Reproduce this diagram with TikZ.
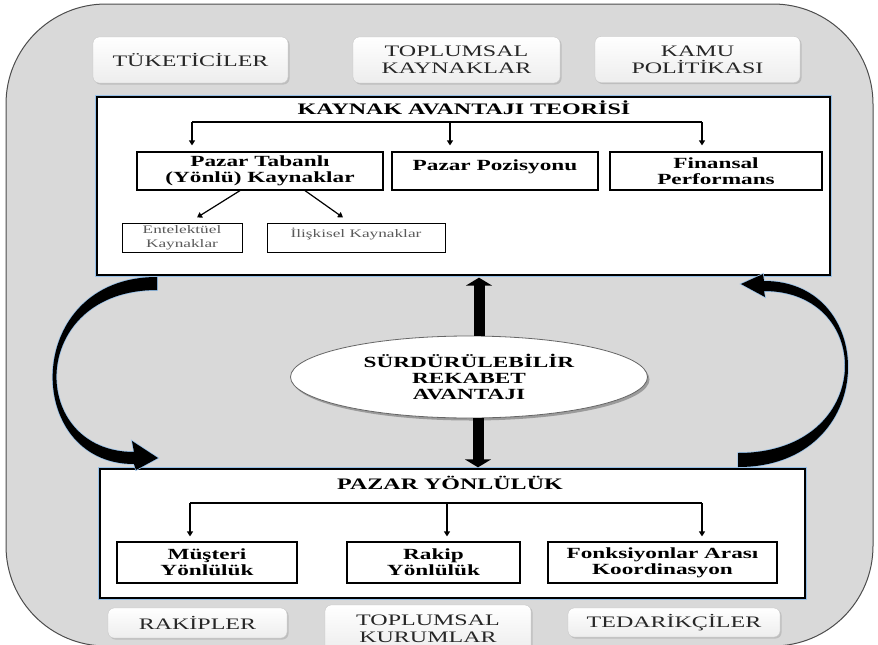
\documentclass[tikz,border=0pt]{standalone}
\usepackage{fontspec}
\setmainfont{Liberation Serif}[FakeStretch = 1.5]
\usetikzlibrary{arrows.meta,shapes.geometric,shadows}
\definecolor{bggray}{RGB}{217,217,217}
\definecolor{glowblue}{RGB}{150,192,232}
\definecolor{textgray}{RGB}{90,90,90}

\begin{document}
\begin{tikzpicture}[x = 1pt, y = -1pt,
            outline/.style = {draw = black!70, line width = 1pt, fill = bggray, rounded corners = 100pt},
            lblbox/.style = {draw = gray!45, rounded corners = 6pt, top color = white, bottom color = gray!14,
                drop shadow = {shadow xshift = 1.5pt, shadow yshift = -1.5pt, opacity = .3},
                align = center, inner sep = 0pt, text = black!85, font = \fontsize{16}{17}\selectfont},
            bigbox/.style = {draw = black, line width = 1.3pt, fill = white, inner sep = 0pt,
                preaction = {draw = glowblue, line width = 4.5pt}},
            subbox/.style = {draw = black, line width = 1.2pt, align = center, inner sep = 0pt,
                font = \fontsize{15.5}{16}\selectfont\bfseries},
            smallbox/.style = {draw = black, line width = 1pt, align = center, inner sep = 0pt,
                text = textgray, font = \fontsize{11.5}{14}\selectfont},
            heading/.style = {inner sep = 0pt, font = \fontsize{16}{16}\selectfont\bfseries},
            goal/.style = {ellipse, draw = black!60, line width = .8pt, fill = white, inner sep = 0pt,
                drop shadow = {shadow xshift = 2pt, shadow yshift = -2.5pt, fill = black!45, opacity = .8},
                align = center, font = \fontsize{15.5}{16}\selectfont\bfseries},
            arr/.style = {-{Triangle[width = 6pt, length = 5pt]}, line width = 1.2pt},
            bigarr/.style = {-{Triangle[width = 26pt, length = 8pt]}, line width = 11pt},
            curvearr/.style = {fill = black, preaction = {draw = glowblue, line width = 1.5pt}}]
    \useasboundingbox (0,0) rectangle (878,645);
    \draw[outline] (6,4) rectangle (873,646);

    \node[lblbox, minimum width = 195pt, minimum height = 46pt] (tuk) at (190.5,60) {TÜKETİCİLER};
    \node[lblbox, minimum width = 207pt, minimum height = 46pt] (tkay) at (456.5,60) {TOPLUMSAL\\KAYNAKLAR};
    \node[lblbox, minimum width = 205pt, minimum height = 46pt] (kamu) at (697.5,59.5) {KAMU\\POLİTİKASI};

    \node[bigbox, minimum width = 733pt, minimum height = 178pt] (kat) at (463.5,186) {};
    \node[heading] (kattitle) at (464,108) {KAYNAK AVANTAJI TEORİSİ};
    \node[subbox, minimum width = 246pt, minimum height = 38pt] (ptb) at (260,171) {Pazar Tabanlı\\(Yönlü) Kaynaklar};
    \node[subbox, minimum width = 206pt, text height = 18pt, text depth = 20pt] (ppoz) at (495,171) {Pazar Pozisyonu};
    \node[subbox, minimum width = 212pt, minimum height = 38pt] (fin) at (716,171) {Finansal\\Performans};
    \node[smallbox, minimum width = 120pt, minimum height = 29pt] (ent) at (182,237.5) {Entelektüel\\Kaynaklar};
    \node[smallbox, minimum width = 178pt, text height = 14pt, text depth = 15pt] (ili) at (356,237.5) {İlişkisel Kaynaklar};

    \coordinate (k1) at (192,122);
    \coordinate (k2) at (450,122);
    \coordinate (k3) at (702,122);
    \draw[line width = 1.2pt] (k1) -- (k3);
    \draw[arr, shorten >= 6pt] (k1) -- (k1 |- ptb.north);
    \draw[arr, shorten >= 6pt] (k2) -- (k2 |- ppoz.north);
    \draw[arr, shorten >= 6pt] (k3) -- (k3 |- fin.north);
    \draw[arr] ([xshift = -20pt]ptb.south) -- ([xshift = 15pt, yshift = 5pt]ent.north);
    \draw[arr] ([xshift = 45pt]ptb.south) -- ([xshift = -13pt, yshift = 5pt]ili.north);

    \node[bigbox, minimum width = 705pt, minimum height = 129pt] (py) at (452.5,533.5) {};
    \node[heading] (pytitle) at (450,483) {PAZAR YÖNLÜLÜK};
    \node[subbox, minimum width = 180pt, minimum height = 41pt] (mus) at (207,562.5) {Müşteri\\Yönlülük};
    \node[subbox, minimum width = 173pt, minimum height = 41pt] (rkp) at (433.5,562.5) {Rakip\\Yönlülük};
    \node[subbox, minimum width = 229pt, minimum height = 41pt] (fon) at (662.5,562.5) {Fonksiyonlar Arası\\Koordinasyon};

    \coordinate (p1) at (190,503);
    \coordinate (p2) at (447,503);
    \coordinate (p3) at (702,503);
    \draw[line width = 1.2pt] (p1) -- (p3);
    \draw[arr, shorten >= 5pt] (p1) -- (p1 |- mus.north);
    \draw[arr, shorten >= 5pt] (p2) -- (p2 |- rkp.north);
    \draw[arr, shorten >= 5pt] (p3) -- (p3 |- fon.north);

    \node[goal, minimum width = 357pt, minimum height = 82pt] (sra) at (469,377) {SÜRDÜRÜLEBİLİR\\REKABET\\AVANTAJI};
    \draw[bigarr, shorten >= 2pt] ([xshift = 10pt]sra.north) -- ([xshift = 10pt]sra.north |- kat.south);
    \draw[bigarr, shorten >= 1pt] ([xshift = 9pt]sra.south) -- ([xshift = 9pt]sra.south |- py.north);

    \fill[curvearr] (157,277) .. controls (22,277) and (22,464) .. (134,464) -- (136,470) -- (158,458)
        -- (132,441) -- (134,452) .. controls (27,452) and (27,290) .. (157,290) -- cycle;
    \fill[curvearr] (738,467) .. controls (880,467) and (880,281) .. (764,281) -- (763,274) -- (741,284)
        -- (765,297) -- (764,291) .. controls (876,291) and (876,453) .. (738,453) -- cycle;

    \node[lblbox, minimum width = 179pt, minimum height = 30pt] (rak) at (197.5,623) {RAKİPLER};
    \node[lblbox, minimum width = 206pt, minimum height = 47pt] (tkur) at (428,628.5) {TOPLUMSAL\\KURUMLAR};
    \node[lblbox, minimum width = 212pt, minimum height = 29pt] (ted) at (674,622.5) {TEDARİKÇİLER};
\end{tikzpicture}
\end{document}
